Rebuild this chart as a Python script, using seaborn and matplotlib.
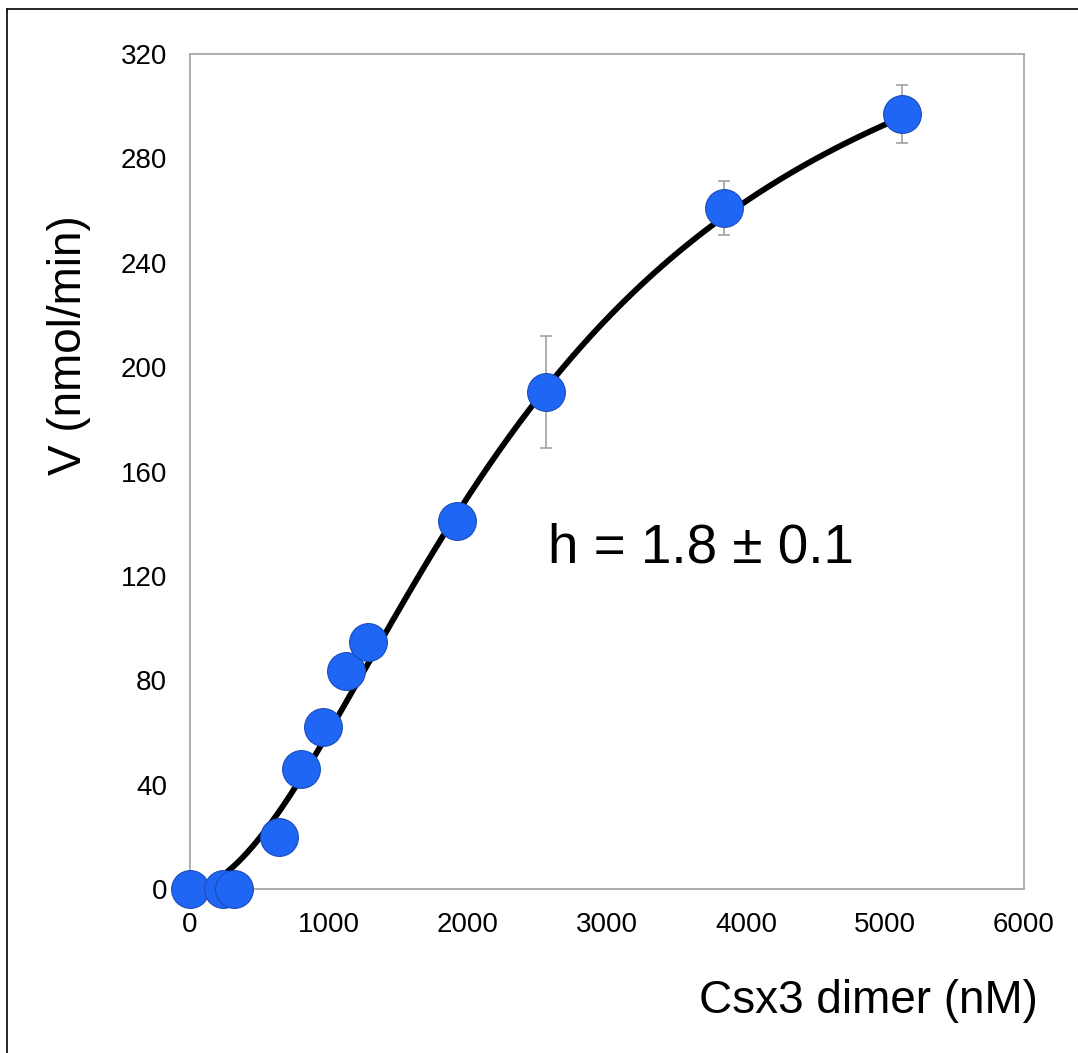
import numpy as np
import pandas as pd
import matplotlib
matplotlib.use("Agg")
import matplotlib.pyplot as plt
from matplotlib.lines import Line2D
import seaborn as sns

# measured points
conc_nM = [0, 240, 320, 640, 800, 960, 1120, 1280, 1920, 2560, 3840, 5120]
rate = [0, 0, 0, 20, 46, 62, 83.5, 94.5, 141, 190.5, 261, 297]
rate_err = [0, 0, 0, 0, 0, 0, 0, 0, 0, 21.5, 10.3, 11]

# Hill fit shown on the chart
vmax = 378.3
k_half = 2520
hill_n = 1.8
fit_label = "h = 1.8 \u00b1 0.1"

x_ticks = [0, 1000, 2000, 3000, 4000, 5000, 6000]
y_ticks = [0, 40, 80, 120, 160, 200, 240, 280, 320]

sns.set_theme(style="white")
plt.rcParams['font.family'] = ['Liberation Sans', 'DejaVu Sans']
plt.rcParams['text.color'] = 'black'
plt.rcParams['axes.labelcolor'] = 'black'

df = pd.DataFrame({'conc': conc_nM, 'v': rate, 'err': rate_err})
xfit = np.linspace(conc_nM[1], conc_nM[-1], 400)
fit = pd.DataFrame({'conc': xfit,
                    'v': vmax * xfit**hill_n / (k_half**hill_n + xfit**hill_n)})

fig = plt.figure(figsize=(10.78, 10.53), dpi=100)
W, H = 1078, 1053
ax = fig.add_axes([190 / W, 1 - 889 / H, (1024 - 190) / W, (889 - 54) / H])

# error bars (only where there is one)
eb = df[df['err'] > 0]
ax.errorbar(eb['conc'], eb['v'], yerr=eb['err'], fmt='none', ecolor='#9a9a9a',
            elinewidth=1.1, capsize=4.5, capthick=1.1, zorder=2)

sns.lineplot(data=fit, x='conc', y='v', color='black', linewidth=4.2, ax=ax, zorder=3)
sns.scatterplot(data=df, x='conc', y='v', s=740, color='#2066f5', edgecolor='#1a4cb8',
                linewidth=0.8, ax=ax, zorder=4, clip_on=False)

ax.set_xlim(0, 6000)
ax.set_ylim(0, 320)
ax.set_xticks(x_ticks)
ax.set_yticks(y_ticks)
ax.tick_params(axis='both', direction='out', length=9.5, width=0.9, color='#9a9a9a',
               labelsize=20, labelcolor='black', pad=7)
for sp in ax.spines.values():
    sp.set_visible(True)
    sp.set_color('#a8a8a8')
    sp.set_linewidth(1.3)

ax.set_xlabel("Csx3 dimer (nM)", fontsize=33, ha='right', va='baseline', color='black')
ax.xaxis.set_label_coords((1038 - 190) / 834, (889 - 1013) / 835)
ax.set_ylabel("V (nmol/min)", fontsize=33, ha='center', va='center', color='black')
ax.yaxis.set_label_coords((69 - 190) / 834, (889 - 345) / 835)

ax.text(2575, 125.3, fit_label, fontsize=39.5, ha='left', va='baseline', color='black')

# partial frame of the cropped figure
fig.add_artist(Line2D([7 / W, 1], [1 - 9 / H, 1 - 9 / H], color='black', linewidth=1.2))
fig.add_artist(Line2D([7 / W, 7 / W], [0, 1 - 9 / H], color='black', linewidth=1.2))

fig.savefig("out.png", dpi=100)
